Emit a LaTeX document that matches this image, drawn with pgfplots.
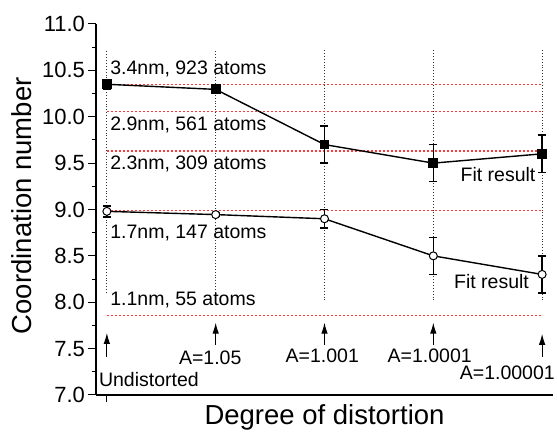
\documentclass[border=0pt]{standalone}
\usepackage{pgfplots}
\pgfplotsset{compat=1.18}
\usepackage{fontspec}
\setmainfont{Liberation Sans}
\usetikzlibrary{arrows.meta}
\begin{document}
\begin{tikzpicture}
\path[use as bounding box] (-96pt,-40pt) rectangle (461pt,395pt);
\begin{axis}[
  at={(0,0)}, anchor=south west,
  scale only axis, width=457pt, height=371pt,
  xmin=-0.1, xmax=4.1, ymin=7, ymax=11,
  axis x line*=bottom, axis y line*=left,
  axis line style={line width=1.2pt,-},
  xtick={0}, xticklabels={},
  ytick={7,7.5,8,8.5,9,9.5,10,10.5,11},
  yticklabels={7.0,7.5,8.0,8.5,9.0,9.5,10.0,10.5,11.0},
  minor ytick={7.25,7.75,8.25,8.75,9.25,9.75,10.25,10.75},
  tick align=outside, major tick length=7.5pt, minor tick length=4pt,
  every tick/.style={black, line width=1pt},
  yticklabel style={font=\fontsize{22}{24}\selectfont},
  ylabel={Coordination number}, xlabel={Degree of distortion},
  label style={font=\fontsize{27.5}{30}\selectfont},
  ylabel style={at={([xshift=-64pt]axis description cs:0,0.51)}, anchor=base, rotate=0},
  xlabel style={at={([yshift=-30pt]axis description cs:0.5,0)}, anchor=base},
  clip=false,
]
\addplot[black!80, dotted, line width=0.9pt, forget plot] coordinates {(0,8.1) (0,10.72)};
\addplot[black!80, dotted, line width=0.9pt, forget plot] coordinates {(1,8.07) (1,10.72)};
\addplot[black!80, dotted, line width=0.9pt, forget plot] coordinates {(2,8.02) (2,10.72)};
\addplot[black!80, dotted, line width=0.9pt, forget plot] coordinates {(3,8.02) (3,10.72)};
\addplot[black!80, dotted, line width=0.9pt, forget plot] coordinates {(4,8.02) (4,10.72)};
\addplot[color={rgb,255:red,250;green,60;blue,60}, line width=1.2pt, dash pattern=on 2.5pt off 1.5pt] coordinates {(0,10.35) (4,10.35)};
\addplot[color={rgb,255:red,250;green,60;blue,60}, line width=1.2pt, dash pattern=on 2.5pt off 1.5pt] coordinates {(0,10.055) (4,10.055)};
\addplot[color={rgb,255:red,250;green,60;blue,60}, line width=1.2pt, dash pattern=on 2.5pt off 1.5pt] coordinates {(0,9.63) (4,9.63)};
\addplot[color={rgb,255:red,250;green,60;blue,60}, line width=1.2pt, dash pattern=on 2.5pt off 1.5pt] coordinates {(0,8.99) (4,8.99)};
\addplot[color={rgb,255:red,250;green,60;blue,60}, line width=1.2pt, dash pattern=on 2.5pt off 1.5pt] coordinates {(0,7.86) (4,7.86)};
\addplot[black, line width=1.4pt, mark=square*, mark size=4.2pt,
  mark options={solid, fill=black},
  error bars/.cd, y dir=both, y explicit,
  error bar style={line width=1.6pt},
  error mark options={rotate=90, mark size=4pt, line width=1.6pt}]
  coordinates {(0,10.35) +- (0,0.05) (1,10.295) +- (0,0) (2,9.70) +- (0,0.2) (3,9.50) +- (0,0.2) (4,9.60) +- (0,0.2)};
\addplot[black, line width=1.4pt, mark=*, mark size=4pt,
  mark options={solid, fill=white, line width=1pt},
  error bars/.cd, y dir=both, y explicit,
  error bar style={line width=1.6pt},
  error mark options={rotate=90, mark size=4pt, line width=1.6pt}]
  coordinates {(0,8.98) +- (0,0.06) (1,8.945) +- (0,0.02) (2,8.90) +- (0,0.1) (3,8.50) +- (0,0.2) (4,8.30) +- (0,0.2)};
\node[anchor=base west, font=\fontsize{19.5}{22}\selectfont, inner sep=0pt] at (axis cs:0.03,10.46) {3.4nm, 923 atoms};
\node[anchor=base west, font=\fontsize{19.5}{22}\selectfont, inner sep=0pt] at (axis cs:0.03,9.857) {2.9nm, 561 atoms};
\node[anchor=base west, font=\fontsize{19.5}{22}\selectfont, inner sep=0pt] at (axis cs:0.03,9.433) {2.3nm, 309 atoms};
\node[anchor=base west, font=\fontsize{19.5}{22}\selectfont, inner sep=0pt] at (axis cs:0.03,8.69) {1.7nm, 147 atoms};
\node[anchor=base west, font=\fontsize{19.5}{22}\selectfont, inner sep=0pt] at (axis cs:0.03,7.96) {1.1nm, 55 atoms};
\node[anchor=base east, font=\fontsize{19.5}{22}\selectfont, inner sep=0pt] at (axis cs:3.94,9.30) {Fit result};
\node[anchor=base east, font=\fontsize{19.5}{22}\selectfont, inner sep=0pt] at (axis cs:3.88,8.15) {Fit result};
\node[anchor=base west, font=\fontsize{19.5}{22}\selectfont, inner sep=0pt] at (axis cs:-0.074,7.09) {Undistorted};
\node[anchor=base, font=\fontsize{19.5}{22}\selectfont, inner sep=0pt] at (axis cs:0.95,7.334) {A=1.05};
\node[anchor=base, font=\fontsize{19.5}{22}\selectfont, inner sep=0pt] at (axis cs:1.98,7.35) {A=1.001};
\node[anchor=base, font=\fontsize{19.5}{22}\selectfont, inner sep=0pt] at (axis cs:2.967,7.35) {A=1.0001};
\node[anchor=base, font=\fontsize{19.5}{22}\selectfont, inner sep=0pt] at (axis cs:3.68,7.17) {A=1.00001};
\draw[line width=1.1pt, -{Latex[length=11pt,width=6.5pt]}] (axis cs:0,7.41) -- (axis cs:0,7.67);
\draw[line width=1.1pt, -{Latex[length=11pt,width=6.5pt]}] (axis cs:1,7.54) -- (axis cs:1,7.78);
\draw[line width=1.1pt, -{Latex[length=11pt,width=6.5pt]}] (axis cs:2,7.54) -- (axis cs:2,7.78);
\draw[line width=1.1pt, -{Latex[length=11pt,width=6.5pt]}] (axis cs:3,7.54) -- (axis cs:3,7.78);
\draw[line width=1.1pt, -{Latex[length=11pt,width=6.5pt]}] (axis cs:4,7.41) -- (axis cs:4,7.66);
\end{axis}
\end{tikzpicture}
\end{document}
